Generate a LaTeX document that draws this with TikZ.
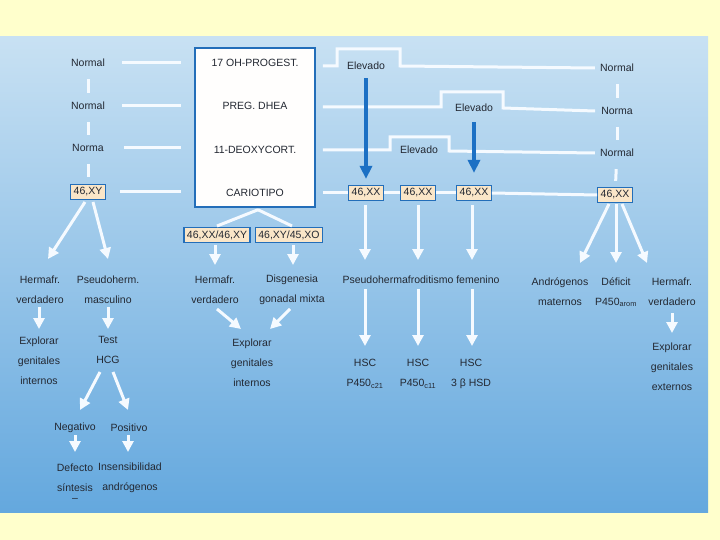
\documentclass[tikz,border=0pt]{standalone}
\usepackage{fontspec}
\setmainfont{Liberation Sans}
\usetikzlibrary{arrows.meta,calc}
\definecolor{bgy}{RGB}{255,255,204}
\definecolor{ptop}{RGB}{200,225,243}
\definecolor{pbot}{RGB}{100,168,222}
\definecolor{bluearr}{RGB}{28,112,196}
\definecolor{boxedge}{RGB}{35,110,185}
\definecolor{peach}{RGB}{250,230,200}
\definecolor{txtc}{RGB}{35,40,50}
\definecolor{wl}{RGB}{245,250,255}
\begin{document}
\begin{tikzpicture}[x=1pt,y=-1pt,
  lbl/.style={font=\fontsize{10.5}{20}\selectfont, text=txtc, inner sep=0pt, align=center},
  kbox/.style={draw=boxedge, fill=peach, line width=1.2pt, font=\fontsize{10.5}{12}\selectfont,
    text=txtc, inner xsep=3pt, inner ysep=0pt, minimum height=15pt},
  mainbox/.style={draw=boxedge, fill=white!97!peach, line width=1.5pt, minimum width=120pt, minimum height=159pt},
  wline/.style={draw=wl, line width=3pt},
  warr/.style={draw=wl, line width=3pt, -{Triangle[width=11pt,length=11pt]}},
  barr/.style={draw=bluearr, line width=3.5pt, -{Triangle[width=12pt,length=13pt]}},
]
\fill[bgy] (0,0) rectangle (720,540);
\shade[top color=ptop,bottom color=pbot] (0,37) rectangle (708,512);
\useasboundingbox (0,0) rectangle (720,540);

% main box
\node[mainbox] (main) at (255,127.5) {};
\node[lbl] (t1) at (255,63) {17 OH-PROGEST.};
\node[lbl] (t2) at (255,106) {PREG. DHEA};
\node[lbl] (t3) at (255,150) {11-DEOXYCORT.};
\node[lbl] (t4) at (255,193) {CARIOTIPO};

% left column
\node[lbl] (ln1) at (88,63) {Normal};
\node[lbl] (ln2) at (88,106) {Normal};
\node[lbl] (ln3) at (88,148) {Norma};
\node[kbox] (lxy) at (88,192) {46,XY};

% right column
\node[lbl] (rn1) at (617,68) {Normal};
\node[lbl] (rn2) at (617,111) {Norma};
\node[lbl] (rn3) at (617,153) {Normal};
\node[kbox] (rxx) at (615,195) {46,XX};

% XX boxes
\node[kbox] (xx1) at (366,193) {46,XX};
\node[kbox] (xx2) at (418,193) {46,XX};
\node[kbox] (xx3) at (474,193) {46,XX};

% Elevado
\node[lbl] (e1) at (366,66) {Elevado};
\node[lbl] (e2) at (474,108) {Elevado};
\node[lbl] (e3) at (419,150) {Elevado};

% dashes left / right
\draw[wline,shorten <=12pt,shorten >=9pt] (ln1) -- (ln2);
\draw[wline,shorten <=12pt,shorten >=9pt] (ln2) -- (ln3);
\draw[wline,shorten <=12pt,shorten >=7pt] (ln3) -- (lxy);
\draw[wline,shorten <=12pt,shorten >=9pt] (rn1) -- (rn2);
\draw[wline,shorten <=12pt,shorten >=9pt] (rn2) -- (rn3);
\draw[wline,shorten <=12pt,shorten >=6pt] (rn3) -- (rxx);

% left horizontal lines
\draw[wline,shorten <=17pt,shorten >=13pt] (ln1.east) -- (ln1.east -| main.west);
\draw[wline,shorten <=17pt,shorten >=13pt] (ln2.east) -- (ln2.east -| main.west);
\draw[wline,shorten <=20pt,shorten >=13pt] (ln3.east) -- (ln3.east -| main.west);
\draw[wline,shorten <=14pt,shorten >=13pt] (lxy.east) -- (lxy.east -| main.west);

% right horizontal lines with steps
\draw[wline] ($(main.east |- e1)+(7,0)$) -- (337,66) -- (337,49) -- (400,49) -- (400,66) -- ($(rn1.west)+(-5,0)$);
\draw[wline] ($(main.east |- e2)+(7,-1)$) -- (441,107) -- (441,92) -- (503,92) -- (503,108) -- ($(rn2.west)+(-6,0)$);
\draw[wline] ($(main.east |- e3)+(7,0)$) -- (390,150) -- (390,137) -- (449,137) -- (449,151) -- ($(rn3.west)+(-5,0)$);
\draw[wline] ($(main.east |- xx1)+(7,0)$) -- (xx1.west);
\draw[wline] (xx1.east) -- (xx2.west);
\draw[wline] (xx2.east) -- (xx3.west);
\draw[wline] (xx3.east) -- (rxx.west);

% blue arrows
\draw[barr,shorten <=8pt,shorten >=6pt] (e1) -- (xx1);
\draw[barr,shorten <=10pt,shorten >=12pt] (e2) -- (xx3);

% left lower branch
\node[lbl] (hvl) at (40,290) {Hermafr.\\verdadero};
\node[lbl] (psm) at (108,290) {Pseudoherm.\\masculino};
\node[lbl] (exl) at (39,361) {Explorar\\genitales\\internos};
\node[lbl] (hcg) at (108,350) {Test\\HCG};
\node[lbl] (neg) at (75,428) {Negativo};
\node[lbl] (pos) at (129,428) {Positivo};
\node[lbl] (def) at (75,478) {Defecto\\síntesis};
\node[lbl] (ins) at (130,478) {Insensibilidad\\andrógenos};
\node[lbl] (dsh) at (75,500) {–};

\draw[warr] ($(lxy)+(-3,10)$) -- ($(hvl)+(8,-31)$);
\draw[warr] ($(lxy)+(5,10)$) -- ($(psm)+(0,-31)$);
\draw[warr] ($(hvl)+(-1,17)$) -- ($(exl)+(0,-32)$);
\draw[warr] ($(psm)+(0,17)$) -- ($(hcg)+(0,-21)$);
\draw[warr] ($(hcg)+(-8,22)$) -- ($(neg)+(5,-18)$);
\draw[warr] ($(hcg)+(5,22)$) -- ($(pos)+(-1,-18)$);
\draw[warr] ($(neg)+(0,7)$) -- ($(def)+(0,-26)$);
\draw[warr] ($(pos)+(-1,7)$) -- ($(ins)+(-2,-26)$);

% middle branch
\node[kbox] (k1) at (217,235) {46,XX/46,XY};
\node[kbox] (k2) at (289,235) {46,XY/45,XO};
\node[lbl] (hvm) at (215,290) {Hermafr.\\verdadero};
\node[lbl] (dis) at (292,290) {Disgenesia\\gonadal mixta};
\node[lbl] (exm) at (252,363) {Explorar\\genitales\\internos};

\draw[wline] ($(main.south)+(3,2)$) -- ($(k1)+(0,-9)$);
\draw[wline] ($(main.south)+(3,2)$) -- ($(k2)+(3,-9)$);
\draw[warr] ($(k1)+(-2,10)$) -- ($(hvm)+(0,-25)$);
\draw[warr] ($(k2)+(4,10)$) -- ($(dis)+(1,-25)$);
\draw[warr] ($(hvm)+(2,19)$) -- ($(exm)+(-11,-34)$);
\draw[warr] ($(dis)+(-2,19)$) -- ($(exm)+(18,-34)$);

% right-middle branch
\node[lbl] (pf) at (421,280) {Pseudohermafroditismo femenino};
\node[lbl] (h1) at (365,374) {HSC\\P450\textsubscript{c21}};
\node[lbl] (h2) at (418,374) {HSC\\P450\textsubscript{c11}};
\node[lbl] (h3) at (471,374) {HSC\\3 β HSD};

\draw[warr] ($(xx1)+(-1,12)$) -- ($(pf)+(-56,-20)$);
\draw[warr] ($(xx2)+(0,12)$) -- ($(pf)+(-3,-20)$);
\draw[warr] ($(xx3)+(-2,12)$) -- ($(pf)+(51,-20)$);
\draw[warr] ($(pf)+(-56,9)$) -- ($(h1)+(0,-28)$);
\draw[warr] ($(pf)+(-3,9)$) -- ($(h2)+(0,-28)$);
\draw[warr] ($(pf)+(51,9)$) -- ($(h3)+(1,-28)$);

% right branch
\node[lbl] (am) at (560,292) {Andrógenos\\maternos};
\node[lbl] (dp) at (616,292) {Déficit\\P450\textsubscript{arom}};
\node[lbl] (hvr) at (672,292) {Hermafr.\\verdadero};
\node[lbl] (exr) at (672,367) {Explorar\\genitales\\externos};

\draw[warr] ($(rxx)+(-6,9)$) -- ($(am)+(20,-29)$);
\draw[warr] ($(rxx)+(1,9)$) -- ($(dp)+(0,-29)$);
\draw[warr] ($(rxx)+(7,9)$) -- ($(hvr)+(-25,-29)$);
\draw[warr] ($(hvr)+(0,21)$) -- ($(exr)+(0,-34)$);
\end{tikzpicture}
\end{document}
